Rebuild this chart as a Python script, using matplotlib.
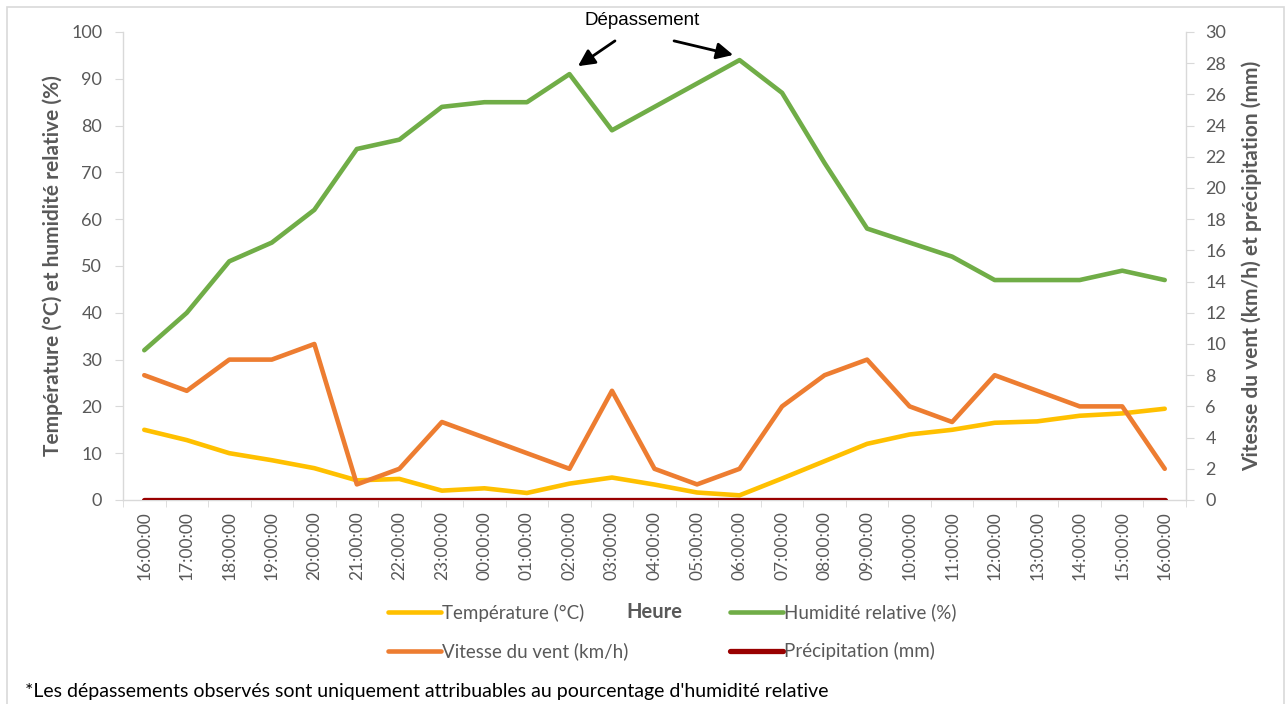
import matplotlib
matplotlib.use("Agg")
import matplotlib.pyplot as plt
from matplotlib.patches import Rectangle
import numpy as np

# ---- data ----
hours = ["16:00:00", "17:00:00", "18:00:00", "19:00:00", "20:00:00", "21:00:00",
         "22:00:00", "23:00:00", "00:00:00", "01:00:00", "02:00:00", "03:00:00",
         "04:00:00", "05:00:00", "06:00:00", "07:00:00", "08:00:00", "09:00:00",
         "10:00:00", "11:00:00", "12:00:00", "13:00:00", "14:00:00", "15:00:00",
         "16:00:00"]
temperature = [15, 12.8, 10, 8.5, 6.8, 4.2, 4.5, 2, 2.5, 1.5, 3.5, 4.8, 3.3,
               1.6, 1, 4.6, 8.3, 12, 14, 15, 16.5, 16.8, 18, 18.5, 19.5]
humidity = [32, 40, 51, 55, 62, 75, 77, 84, 85, 85, 91, 79, 84, 89, 94, 87,
            72, 58, 55, 52, 47, 47, 47, 49, 47]
wind = [8, 7, 9, 9, 10, 1, 2, 5, 4, 3, 2, 7, 2, 1, 2, 6, 8, 9, 6, 5, 8, 7,
        6, 6, 2]
precipitation = [0] * 25

label_temp = "Température (°C)"
label_hum = "Humidité relative (%)"
label_wind = "Vitesse du vent (km/h)"
label_prec = "Précipitation (mm)"

# ---- style ----
FONT = ["Lato", "DejaVu Sans"]
plt.rcParams['font.family'] = FONT
GRAY = "#595959"
AXC = "#D9D9D9"
C_TEMP = "#FFC000"
C_HUM = "#70AD47"
C_WIND = "#ED7D31"
C_PREC = "#990000"

W, H = 1288, 704
fig = plt.figure(figsize=(W / 100, H / 100), dpi=100)
ax = fig.add_axes([123 / W, 1 - 500 / H, (1186 - 123) / W, (500 - 32) / H])
ax2 = ax.twinx()

x = np.arange(len(hours))
LW = 3.3
l_temp, = ax.plot(x, temperature, color=C_TEMP, lw=LW, solid_capstyle='round', label=label_temp)
l_hum, = ax.plot(x, humidity, color=C_HUM, lw=LW, solid_capstyle='round', label=label_hum)
l_wind, = ax2.plot(x, wind, color=C_WIND, lw=LW, solid_capstyle='round', label=label_wind)
l_prec, = ax2.plot(x, precipitation, color=C_PREC, lw=3.8, solid_capstyle='round', label=label_prec)

ax.set_xlim(-0.5, len(hours) - 0.5)
ax.set_ylim(0, 100)
ax2.set_ylim(0, 30)
ax.set_yticks(np.arange(0, 101, 10))
ax2.set_yticks(np.arange(0, 31, 2))
ax.set_xticks(x)
ax.set_xticklabels(hours, rotation=90)
ax.set_xticks(np.arange(-0.5, len(hours), 1), minor=True)

for a in (ax, ax2):
    a.spines["top"].set_visible(False)
    for s in ("left", "right", "bottom"):
        a.spines[s].set_color(AXC)
        a.spines[s].set_linewidth(1)
ax.spines["right"].set_visible(False)
ax2.spines["left"].set_visible(False)
ax2.spines["bottom"].set_visible(False)

ax.tick_params(axis='x', which='major', length=0, pad=8, labelsize=12.5, labelcolor=GRAY)
ax.tick_params(axis='x', which='minor', length=5, color=AXC, direction='out')
ax.tick_params(axis='y', length=6, color=AXC, pad=9, labelsize=13, labelcolor=GRAY)
ax2.tick_params(axis='y', length=6, color=AXC, pad=8, labelsize=13, labelcolor=GRAY)

ax.set_ylabel("Température (°C) et humidité relative (%)", fontsize=15,
              fontweight='bold', color=GRAY)
ax.yaxis.set_label_coords((63 - 123) / 1063, 0.5)
ax2.set_ylabel("Vitesse du vent (km/h) et précipitation (mm)", fontsize=15,
               fontweight='bold', color=GRAY, rotation=90)
ax2.yaxis.set_label_coords((1242 - 123) / 1063, 0.5)

# annotation
ax.text(11.7, 102.4, "Dépassement", ha='center', va='center', fontsize=13.5,
        family=["Liberation Sans", "DejaVu Sans"], color='black', clip_on=False)
arrow_kw = dict(arrowstyle='-|>,head_length=1.0,head_width=0.5', color='black', lw=2,
                shrinkA=0, shrinkB=0)
ax.annotate("", xy=(10.2, 92.7), xytext=(11.07, 98.1), arrowprops=arrow_kw,
            annotation_clip=False)
ax.annotate("", xy=(13.85, 95.1), xytext=(12.46, 98.1), arrowprops=arrow_kw,
            annotation_clip=False)

# legends
leg_kw = dict(frameon=False, fontsize=13.5, handlelength=2.8, handletextpad=0.1,
              borderpad=0, borderaxespad=0, labelspacing=1.1, labelcolor=GRAY)
yc = 1 - 632 / H
leg1 = fig.legend(handles=[l_temp, l_wind], loc='center left',
                  bbox_to_anchor=(388 / W, yc), **leg_kw)
leg2 = fig.legend(handles=[l_hum, l_prec], loc='center left',
                  bbox_to_anchor=(730 / W, yc), **leg_kw)
fig.text(654 / W, 1 - 612 / H, "Heure", ha='center', va='center', fontsize=14.5,
         fontweight='bold', color=GRAY)

# footnote
fig.text(25 / W, 1 - 692 / H,
         "*Les dépassements observés sont uniquement attribuables au pourcentage d'humidité relative",
         ha='left', va='center', fontsize=14, color='black')

# border
fig.patches.append(Rectangle((7 / W, -0.05), (1284 - 7) / W, 1.05 - 7 / H,
                             transform=fig.transFigure, fill=False,
                             edgecolor=AXC, lw=1.2))

fig.savefig("out.png", dpi=100)
